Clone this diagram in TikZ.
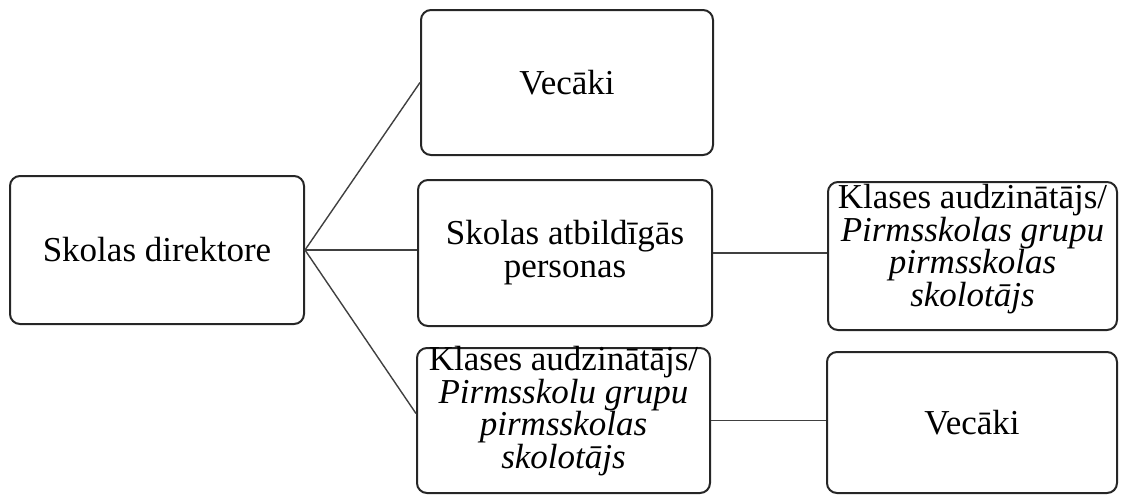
\documentclass[tikz,border=0pt]{standalone}
\usepackage{fontspec}
\setmainfont{Liberation Serif}
\begin{document}
\begin{tikzpicture}[x=1pt,y=-1pt,
  box/.style={draw=black!85, line width=2pt, rounded corners=10pt, align=center, inner sep=0pt, font=\fontsize{35}{33}\selectfont},
  tight/.style={font=\fontsize{35}{29.5}\selectfont},
  link/.style={draw=black!75, line width=1.4pt}]
\useasboundingbox (0,0) rectangle (1124,496);
\node[box, minimum width=294pt, minimum height=148pt] (dir) at (157,250) {Skolas direktore};
\node[box, minimum width=292pt, minimum height=145pt] (v1) at (567,82.5) {Vecāki};
\node[box, minimum width=294pt, minimum height=146pt] (sap) at (565,253) {Skolas atbildīgās\\personas};
\node[box, tight, minimum width=293pt, minimum height=145pt] (kla) at (563.5,420.5) {};
\node[tight, align=center, inner sep=0pt] (klat) at (563.5,411) {Klases audzinātājs/\\\textit{Pirmsskolu grupu}\\\textit{pirmsskolas}\\\textit{skolotājs}};
\node[box, tight, minimum width=289pt, minimum height=148pt] (kr) at (972.5,256) {};
\node[tight, align=center, inner sep=0pt] (krt) at (972.5,249) {Klases audzinātājs/\\\textit{Pirmsskolas grupu}\\\textit{pirmsskolas}\\\textit{skolotājs}};
\node[box, minimum width=290pt, minimum height=141pt] (v2) at (972,422.5) {Vecāki};
\draw[link] (dir.east) -- (v1.west);
\draw[link] (dir.east) -- (dir.east -| sap.west);
\draw[link] (dir.east) -- ([yshift=7pt]kla.west);
\draw[link] (sap.east) -- (sap.east -| kr.west);
\draw[link] (kla.east) -- (kla.east -| v2.west);
\end{tikzpicture}
\end{document}
